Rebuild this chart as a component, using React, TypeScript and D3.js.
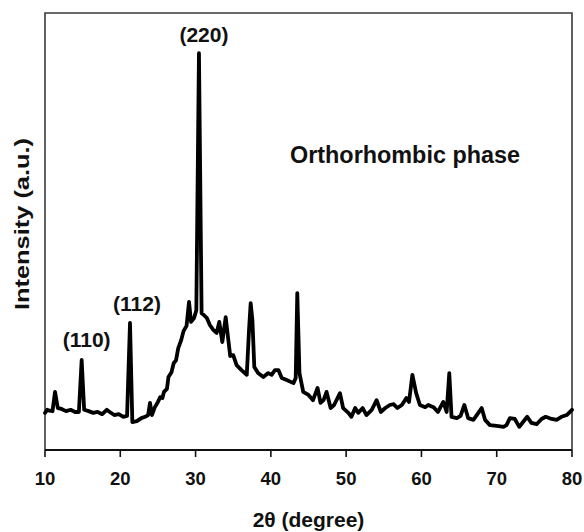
import React from "react";
import * as d3 from "d3";

// 2θ positions (degrees) of the sampled pattern
const twoTheta = [
  10.0, 10.3, 10.6, 11.0, 11.33, 11.7, 12.2, 12.8, 13.4, 14.0, 14.5, 14.87, 15.2, 15.8,
  16.4, 17.0, 17.6, 18.2, 18.6, 19.2, 19.8, 20.4, 20.9, 21.29, 21.6, 22.2, 22.8,
  23.3, 23.7, 23.95, 24.2, 24.6, 25.0, 25.3, 25.6, 25.8, 26.2, 26.4, 26.8, 27.1, 27.4,
  27.7, 28.1, 28.4, 28.8, 29.13, 29.4, 29.8, 30.1, 30.45, 30.8, 31.1, 31.5, 31.9,
  32.35, 32.8, 33.15, 33.55, 34.0, 34.35, 34.6, 35.0, 35.45, 36.1, 36.8, 37.1, 37.32,
  37.55, 37.8, 38.3, 39.0, 39.65, 40.1, 40.55, 41.0, 41.45, 42.1, 43.0, 43.3, 43.51,
  43.8, 44.3, 45.0, 45.6, 46.2, 46.6, 47.0, 47.4, 47.94, 48.4, 49.18, 49.6, 50.3,
  50.7, 51.2, 51.6, 52.2, 52.7, 53.4, 54.05, 54.6, 55.2, 55.8, 56.3, 56.8, 57.4,
  58.0, 58.35, 58.8, 59.3, 59.8, 60.5, 60.9, 61.6, 62.2, 62.9, 63.35, 63.7, 64.0,
  64.7, 65.2, 65.7, 66.2, 66.9, 67.35, 68.0, 68.45, 69.1, 70.0, 70.9, 71.3, 71.75,
  72.4, 73.0, 73.5, 74.05, 74.6, 75.3, 75.95, 76.5, 77.3, 77.95, 78.6, 79.3, 80.0,
];

// Intensity (arbitrary units) at each 2θ position
const intensity = [
  85, 92, 90, 89, 133, 96, 94, 89, 92, 87, 87, 206, 92, 89,
  85, 87, 82, 92, 87, 80, 82, 76, 78, 291, 64, 66, 73,
  76, 80, 108, 80, 98, 110, 121, 119, 133, 140, 167, 178, 199, 205,
  233, 252, 272, 284, 339, 293, 302, 320, 908, 313, 309, 302, 286,
  275, 268, 293, 247, 304, 252, 215, 217, 194, 183, 172, 275, 336,
  297, 190, 176, 167, 176, 172, 183, 183, 165, 160, 153, 165, 359,
  176, 133, 126, 114, 142, 108, 114, 133, 96, 103, 130, 96, 85,
  76, 96, 85, 96, 80, 92, 114, 87, 96, 103, 105, 96, 103,
  119, 110, 172, 130, 103, 98, 103, 98, 87, 110, 87, 176, 76,
  73, 78, 103, 73, 69, 80, 96, 69, 57, 55, 53, 57, 73,
  71, 53, 64, 76, 62, 59, 71, 76, 71, 69, 76, 80, 92,
];

const xTicks = [10, 20, 30, 40, 50, 60, 70, 80];

// Miller indices of the labelled reflections and their 2θ
const peakLabels = ["(110)", "(112)", "(220)"];
const peakTheta = [14.87, 21.29, 30.45];

const phaseLabel = "Orthorhombic phase";
const xTitle = "2\u03b8 (degree)";
const yTitle = "Intensity (a.u.)";

const W = 584;
const H = 532;
const M = { left: 45, right: 572, top: 13, bottom: 450 };
const FONT = "'Liberation Sans', Arial, Helvetica, sans-serif";

export default function App() {
  const x = d3.scaleLinear().domain([10, 80]).range([M.left, M.right]);
  const y = d3.scaleLinear().domain([0, 1000]).range([M.bottom, M.top]);

  const pts: [number, number][] = twoTheta.map((t, i) => [t, intensity[i]]);
  const path = d3
    .line<[number, number]>()
    .x((d) => x(d[0]))
    .y((d) => y(d[1]))(pts);

  const peakI = peakTheta.map((t) => intensity[twoTheta.indexOf(t)]);
  // label placement relative to each peak top
  const labelOffsets = [
    { dx: 5, dy: -13 },
    { dx: 7, dy: -12 },
    { dx: 5, dy: -11 },
  ];

  return (
    <svg
      width={W}
      height={H}
      style={{ position: "absolute", left: 0, top: 0, display: "block", background: "#fff" }}
      fontFamily={FONT}
      fontWeight="bold"
    >
      {/* frame */}
      <path
        d={`M${M.left},${M.bottom}V${M.top}H${M.right}V${M.bottom}`}
        fill="none"
        stroke="#3a3a3a"
        strokeWidth={1.6}
      />
      {/* bottom axis */}
      <line x1={M.left} x2={M.right} y1={M.bottom} y2={M.bottom} stroke="#111" strokeWidth={1.8} />
      {xTicks.map((t) => (
        <g key={t}>
          <line x1={x(t)} x2={x(t)} y1={M.bottom} y2={M.bottom + 7} stroke="#111" strokeWidth={1.6} />
          <text x={x(t)} y={485} textAnchor="middle" fontSize={18.5} fill="#111">
            {t}
          </text>
        </g>
      ))}

      {/* pattern */}
      <path d={path ?? ""} fill="none" stroke="#000" strokeWidth={3.8} strokeLinejoin="round" strokeLinecap="round" />

      {/* reflection labels */}
      {peakLabels.map((lab, i) => (
        <text
          key={lab}
          x={x(peakTheta[i]) + labelOffsets[i].dx}
          y={y(peakI[i]) + labelOffsets[i].dy}
          textAnchor="middle"
          fontSize={21}
          fill="#111"
        >
          {lab}
        </text>
      ))}

      <text x={290} y={163} fontSize={23} fill="#111" textLength={230} lengthAdjust="spacingAndGlyphs">
        {phaseLabel}
      </text>

      {/* axis titles */}
      <text x={308.5} y={527} textAnchor="middle" fontSize={21} fill="#111">
        {xTitle}
      </text>
      <text
        transform={`translate(29,224) rotate(-90)`}
        textAnchor="middle"
        fontSize={21}
        fill="#111"
        textLength={172}
        lengthAdjust="spacingAndGlyphs"
      >
        {yTitle}
      </text>
    </svg>
  );
}
